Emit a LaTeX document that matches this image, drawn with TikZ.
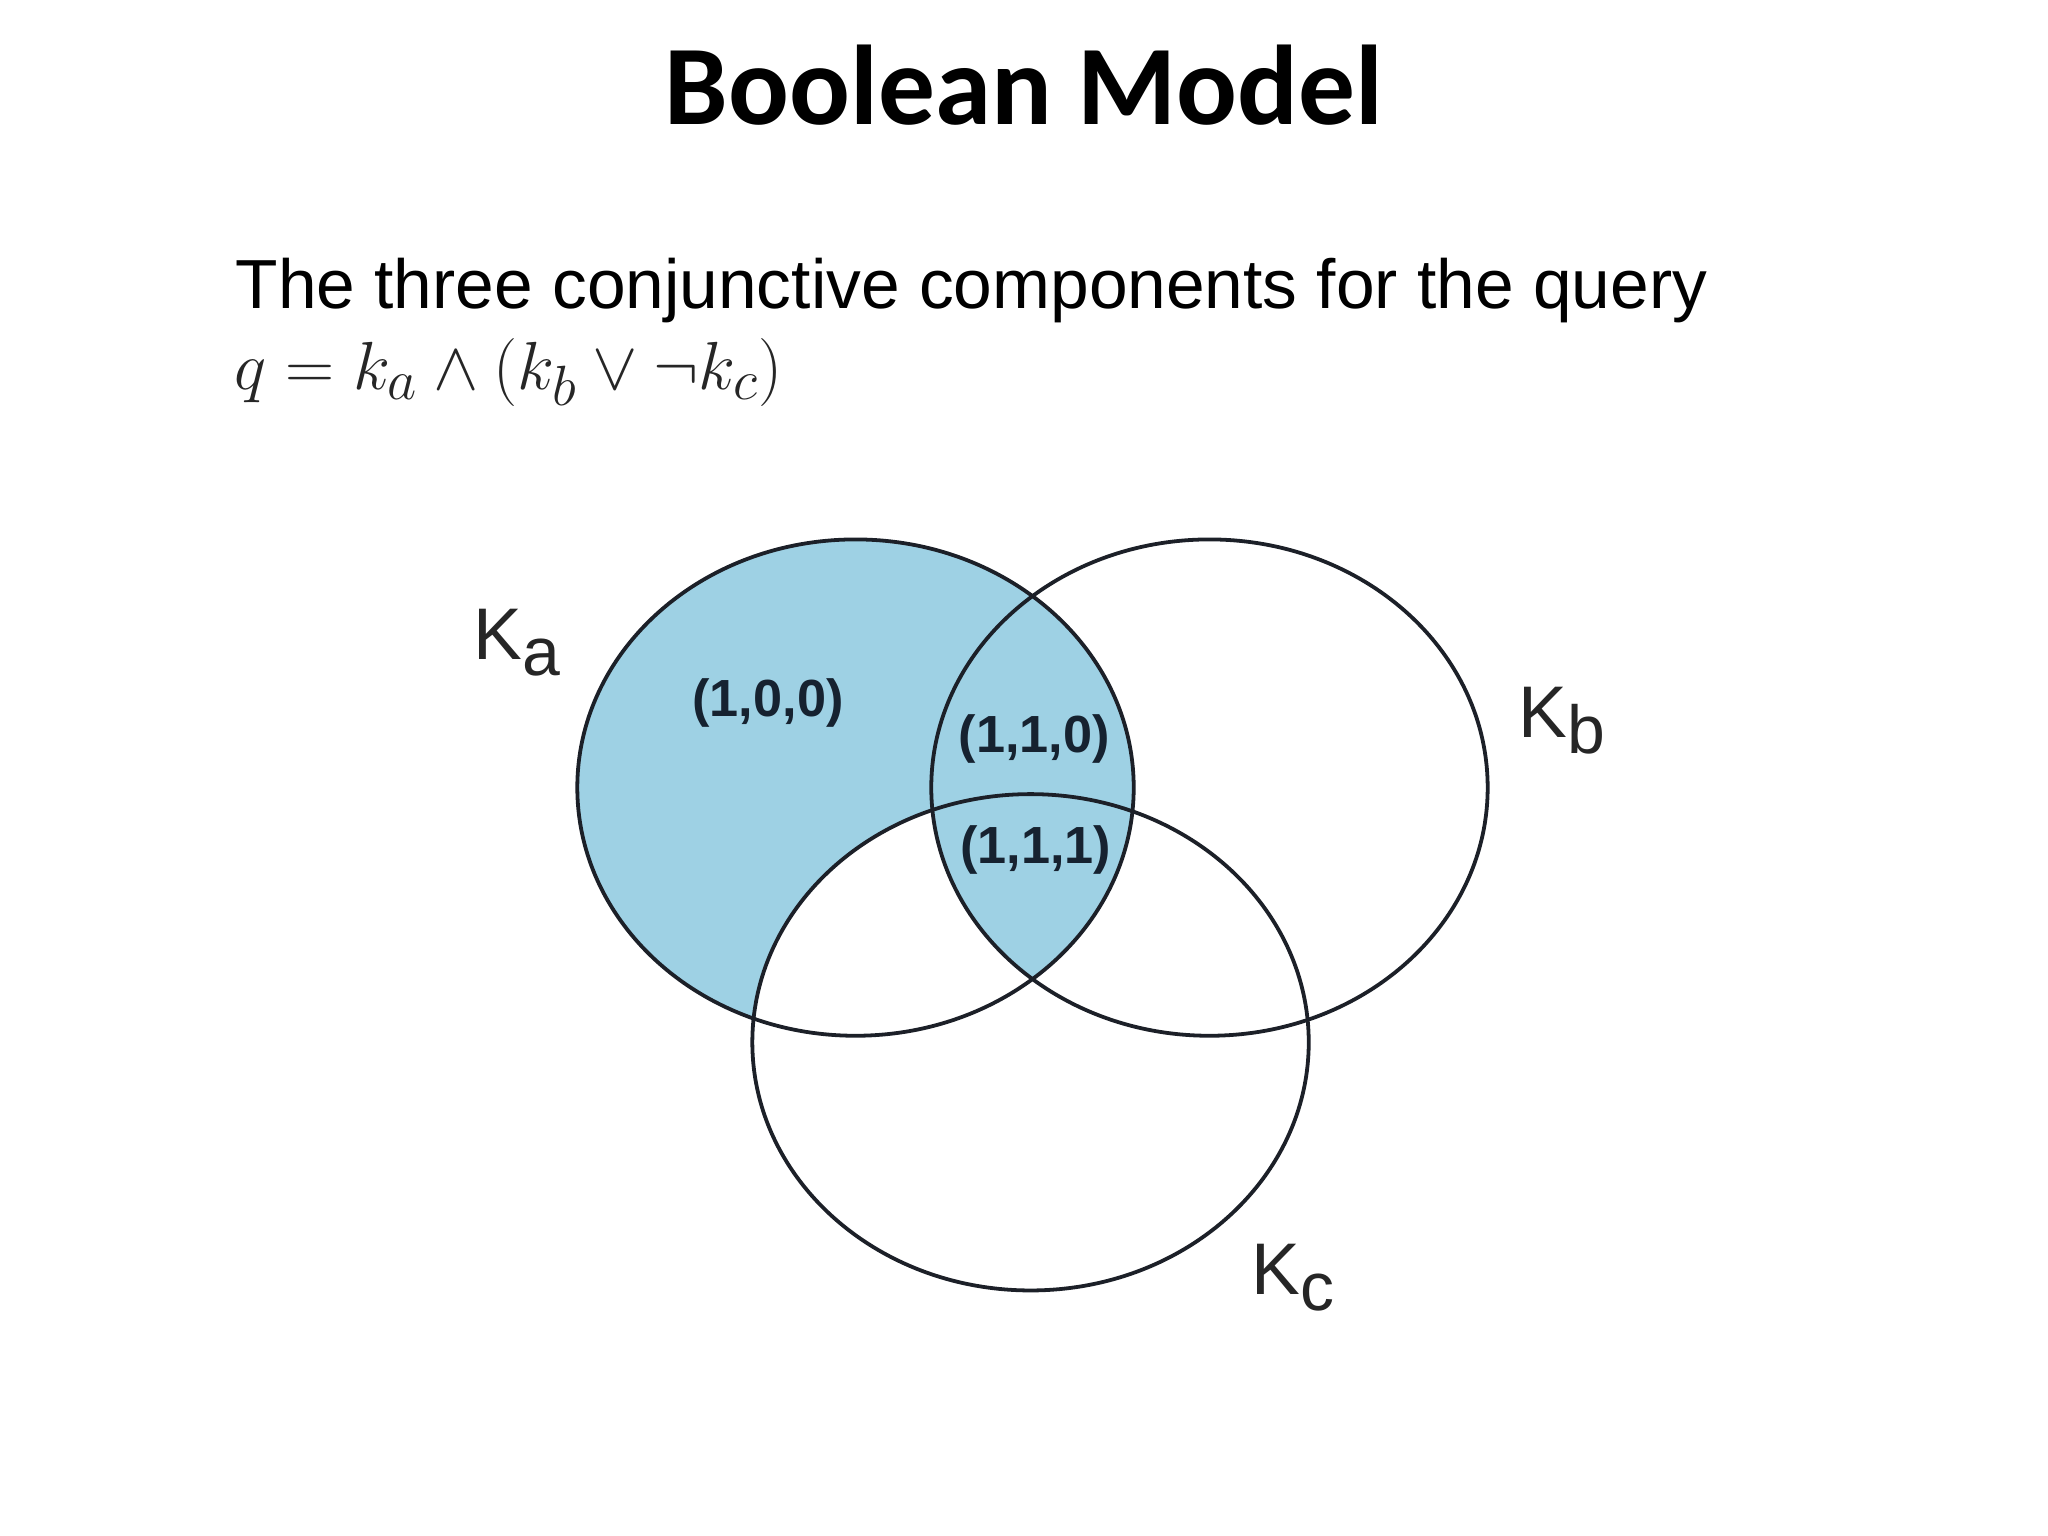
\documentclass[tikz,border=0pt]{standalone}
\usepackage{graphicx}
\usepackage{fontspec}
\setmainfont{Liberation Sans}
\newfontfamily\titlefont{Carlito}
\definecolor{vennblue}{RGB}{158,209,228}
\definecolor{vennline}{RGB}{28,32,40}
\definecolor{labelcol}{RGB}{22,34,48}
\newcommand\vennA{(655,603) ellipse [x radius=213, y radius=190]}
\newcommand\vennB{(926,603) ellipse [x radius=213, y radius=190]}
\newcommand\vennC{(789,798) ellipse [x radius=213, y radius=190]}
\tikzset{
  vennedge/.style={draw=vennline, line width=1.45pt},
  region/.style={font=\fontsize{20}{24}\selectfont\bfseries, text=labelcol, inner sep=0pt},
  setlabel/.style={font=\fontsize{28}{32}\selectfont, text=black!85, inner sep=0pt}
}
\begin{document}
\begin{tikzpicture}[x=0.5pt,y=-0.5pt]
\useasboundingbox[fill=white] (0,0) rectangle (1568,1176);
\node[anchor=base, inner sep=0pt, font=\titlefont\bfseries\fontsize{43.4}{50}\selectfont] (title) at (784,95) {Boolean Model};
\node[anchor=base west, inner sep=0pt, font=\fontsize{26.6}{30}\selectfont] (line1) at (180,236) {The three conjunctive components for the query};
\node[anchor=base west, inner sep=0pt, font=\fontsize{24.88}{30}\selectfont, text=black!85] (line2) at (179,298) {\scalebox{1.047}{$q = k_a \wedge (k_b \vee \neg k_c)$}};
% shading
\fill[vennblue] \vennA;
\begin{scope}
  \clip \vennA;
  \fill[white] \vennC;
\end{scope}
\begin{scope}
  \clip \vennA;
  \clip \vennB;
  \fill[vennblue] \vennC;
\end{scope}
\draw[vennedge] \vennA;
\draw[vennedge] \vennB;
\draw[vennedge] \vennC;
% region labels
\node[region] (r100) at (588,538) {(1,0,0)};
\node[region] (r110) at (792,566) {(1,1,0)};
\node[region] (r111) at (793,651) {(1,1,1)};
% set labels
\node[setlabel] (ka) at (396,492) {K\raisebox{-6pt}{\fontsize{26}{30}\selectfont a}};
\node[setlabel] (kb) at (1196,552) {K\raisebox{-6pt}{\fontsize{26}{30}\selectfont b}};
\node[setlabel] (kc) at (990,978) {K\raisebox{-6pt}{\fontsize{26}{30}\selectfont c}};
\end{tikzpicture}
\end{document}
